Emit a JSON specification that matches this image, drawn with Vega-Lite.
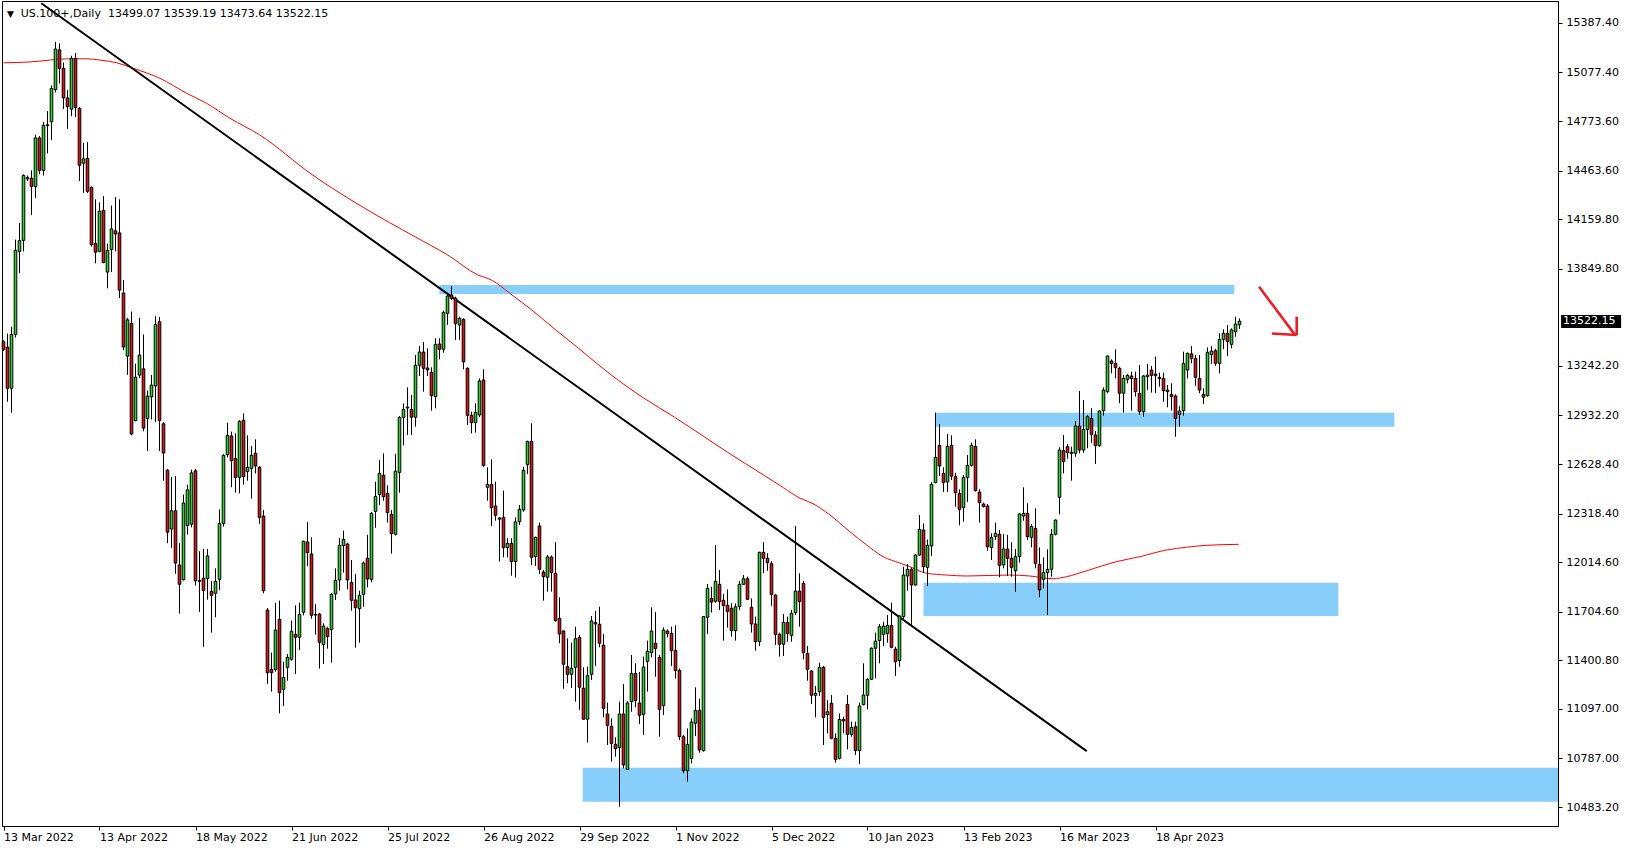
{
"$schema": "https://vega.github.io/schema/vega-lite/v6.json",
"width": 1556, "height": 825,
"autosize": {"type": "none"},
"padding": {"left": 2, "top": 1, "right": 71, "bottom": 24},
"background": "white",
"config": {
 "view": {"stroke": "black", "strokeWidth": 1},
 "axis": {"grid": false, "domainColor": "black", "tickColor": "black", "labelColor": "black", "labelFont": "DejaVu Sans", "labelFontSize": 11}
},
"datasets": {
 "candles": [
{"i":0,"o":13394,"h":13402,"l":13335,"c":13345},
{"i":1,"o":13360,"h":13444,"l":13018,"c":13102},
{"i":2,"o":13102,"h":13488,"l":12949,"c":13439},
{"i":3,"o":13439,"h":14032,"l":13419,"c":13965},
{"i":4,"o":13958,"h":14136,"l":13822,"c":14027},
{"i":5,"o":14027,"h":14440,"l":13958,"c":14433},
{"i":6,"o":14412,"h":14433,"l":14398,"c":14420},
{"i":7,"o":14416,"h":14465,"l":14186,"c":14364},
{"i":8,"o":14364,"h":14688,"l":14292,"c":14668},
{"i":9,"o":14668,"h":14680,"l":14440,"c":14465},
{"i":10,"o":14465,"h":14769,"l":14433,"c":14747},
{"i":11,"o":14745,"h":14836,"l":14571,"c":14750},
{"i":12,"o":14769,"h":14997,"l":14655,"c":14977},
{"i":13,"o":14970,"h":15269,"l":14952,"c":15224},
{"i":14,"o":15219,"h":15259,"l":15009,"c":15103},
{"i":15,"o":15103,"h":15140,"l":14848,"c":14918},
{"i":16,"o":14918,"h":14967,"l":14725,"c":14863},
{"i":17,"o":14848,"h":15182,"l":14804,"c":15165},
{"i":18,"o":15165,"h":15200,"l":14799,"c":14858},
{"i":19,"o":14853,"h":14861,"l":14398,"c":14497},
{"i":20,"o":14510,"h":14638,"l":14324,"c":14537},
{"i":21,"o":14539,"h":14643,"l":14324,"c":14334},
{"i":22,"o":14359,"h":14364,"l":13988,"c":14000},
{"i":23,"o":14007,"h":14284,"l":13884,"c":13953},
{"i":24,"o":13958,"h":14265,"l":13953,"c":14210},
{"i":25,"o":14215,"h":14304,"l":13884,"c":13889},
{"i":26,"o":13829,"h":14007,"l":13728,"c":13965},
{"i":27,"o":13970,"h":14245,"l":13829,"c":14099},
{"i":28,"o":14087,"h":14299,"l":13958,"c":14067},
{"i":29,"o":14074,"h":14284,"l":13666,"c":13716},
{"i":30,"o":13698,"h":13780,"l":13340,"c":13360},
{"i":31,"o":13303,"h":13543,"l":13186,"c":13530},
{"i":32,"o":13508,"h":13582,"l":12808,"c":12816},
{"i":33,"o":12900,"h":13256,"l":12895,"c":13172},
{"i":34,"o":13184,"h":13543,"l":13167,"c":13310},
{"i":35,"o":13224,"h":13439,"l":12833,"c":12853},
{"i":36,"o":12914,"h":13088,"l":12709,"c":13053},
{"i":37,"o":13048,"h":13186,"l":12907,"c":13122},
{"i":38,"o":13117,"h":13553,"l":12890,"c":13501},
{"i":39,"o":13518,"h":13548,"l":12709,"c":12900},
{"i":40,"o":12880,"h":12890,"l":12524,"c":12697},
{"i":41,"o":12590,"h":12598,"l":12133,"c":12202},
{"i":42,"o":12222,"h":12548,"l":12103,"c":12336},
{"i":43,"o":12336,"h":12553,"l":11942,"c":12009},
{"i":44,"o":11997,"h":12133,"l":11693,"c":11876},
{"i":45,"o":11905,"h":12437,"l":11900,"c":12385},
{"i":46,"o":12244,"h":12499,"l":12187,"c":12467},
{"i":47,"o":12252,"h":12593,"l":12232,"c":12573},
{"i":48,"o":12586,"h":12598,"l":11868,"c":11898},
{"i":49,"o":11900,"h":12083,"l":11703,"c":11895},
{"i":50,"o":11915,"h":12098,"l":11485,"c":11837},
{"i":51,"o":11912,"h":12097,"l":11780,"c":12054},
{"i":52,"o":11832,"h":11897,"l":11574,"c":11807},
{"i":53,"o":11820,"h":11976,"l":11670,"c":11895},
{"i":54,"o":11907,"h":12345,"l":11840,"c":12257},
{"i":55,"o":12257,"h":12691,"l":12237,"c":12683},
{"i":56,"o":12687,"h":12887,"l":12670,"c":12808},
{"i":57,"o":12804,"h":12831,"l":12483,"c":12649},
{"i":58,"o":12662,"h":12820,"l":12449,"c":12545},
{"i":59,"o":12545,"h":12904,"l":12445,"c":12895},
{"i":60,"o":12902,"h":12945,"l":12499,"c":12549},
{"i":61,"o":12581,"h":12808,"l":12524,"c":12608},
{"i":62,"o":12601,"h":12741,"l":12412,"c":12683},
{"i":63,"o":12695,"h":12783,"l":12570,"c":12616},
{"i":64,"o":12608,"h":12616,"l":12253,"c":12295},
{"i":65,"o":12303,"h":12341,"l":11820,"c":11836},
{"i":66,"o":11715,"h":11728,"l":11253,"c":11323},
{"i":67,"o":11344,"h":11449,"l":11205,"c":11323},
{"i":68,"o":11344,"h":11761,"l":11330,"c":11590},
{"i":69,"o":11657,"h":11774,"l":11069,"c":11198},
{"i":70,"o":11219,"h":11392,"l":11115,"c":11294},
{"i":71,"o":11357,"h":11440,"l":11273,"c":11419},
{"i":72,"o":11407,"h":11649,"l":11399,"c":11582},
{"i":73,"o":11563,"h":11745,"l":11315,"c":11545},
{"i":74,"o":11545,"h":11761,"l":11465,"c":11688},
{"i":75,"o":11701,"h":12149,"l":11682,"c":12145},
{"i":76,"o":12141,"h":12266,"l":11991,"c":12074},
{"i":77,"o":12066,"h":12170,"l":11661,"c":11682},
{"i":78,"o":11686,"h":11753,"l":11561,"c":11684},
{"i":79,"o":11690,"h":11695,"l":11349,"c":11513},
{"i":80,"o":11499,"h":11632,"l":11378,"c":11615},
{"i":81,"o":11599,"h":11611,"l":11474,"c":11549},
{"i":82,"o":11594,"h":11820,"l":11386,"c":11813},
{"i":83,"o":11816,"h":11976,"l":11778,"c":11901},
{"i":84,"o":11903,"h":12166,"l":11836,"c":12120},
{"i":85,"o":12118,"h":12212,"l":11949,"c":12157},
{"i":86,"o":12128,"h":12137,"l":11845,"c":11903},
{"i":87,"o":11888,"h":12028,"l":11711,"c":11776},
{"i":88,"o":11778,"h":11941,"l":11480,"c":11730},
{"i":89,"o":11724,"h":11836,"l":11511,"c":11807},
{"i":90,"o":11813,"h":12018,"l":11736,"c":12009},
{"i":91,"o":12039,"h":12186,"l":11857,"c":11909},
{"i":92,"o":11907,"h":12328,"l":11888,"c":12320},
{"i":93,"o":12332,"h":12518,"l":12230,"c":12426},
{"i":94,"o":12437,"h":12654,"l":12372,"c":12570},
{"i":95,"o":12558,"h":12695,"l":12399,"c":12424},
{"i":96,"o":12445,"h":12495,"l":12262,"c":12324},
{"i":97,"o":12314,"h":12341,"l":12068,"c":12193},
{"i":98,"o":12189,"h":12691,"l":12182,"c":12583},
{"i":99,"o":12576,"h":12929,"l":12449,"c":12920},
{"i":100,"o":12920,"h":13008,"l":12745,"c":12970},
{"i":101,"o":12979,"h":13108,"l":12810,"c":12985},
{"i":102,"o":12970,"h":13060,"l":12810,"c":12921},
{"i":103,"o":12921,"h":13310,"l":12862,"c":13246},
{"i":104,"o":13246,"h":13367,"l":13179,"c":13329},
{"i":105,"o":13329,"h":13392,"l":13081,"c":13227},
{"i":106,"o":13229,"h":13352,"l":13179,"c":13217},
{"i":107,"o":13202,"h":13233,"l":12962,"c":13056},
{"i":108,"o":13050,"h":13415,"l":12977,"c":13377},
{"i":109,"o":13379,"h":13415,"l":13283,"c":13346},
{"i":110,"o":13346,"h":13588,"l":13325,"c":13577},
{"i":111,"o":13571,"h":13696,"l":13498,"c":13679},
{"i":112,"o":13686,"h":13742,"l":13654,"c":13665},
{"i":113,"o":13665,"h":13675,"l":13404,"c":13508},
{"i":114,"o":13498,"h":13550,"l":13404,"c":13540},
{"i":115,"o":13533,"h":13540,"l":13221,"c":13267},
{"i":116,"o":13227,"h":13233,"l":12872,"c":12933},
{"i":117,"o":12933,"h":12956,"l":12820,"c":12887},
{"i":118,"o":12887,"h":13008,"l":12825,"c":12952},
{"i":119,"o":12935,"h":13164,"l":12921,"c":13148},
{"i":120,"o":13154,"h":13221,"l":12612,"c":12618},
{"i":121,"o":12483,"h":12608,"l":12399,"c":12501},
{"i":122,"o":12501,"h":12658,"l":12241,"c":12355},
{"i":123,"o":12366,"h":12518,"l":12274,"c":12308},
{"i":124,"o":12291,"h":12295,"l":12018,"c":12283},
{"i":125,"o":12295,"h":12462,"l":12045,"c":12105},
{"i":126,"o":12105,"h":12164,"l":12045,"c":12132},
{"i":127,"o":12132,"h":12164,"l":11930,"c":12018},
{"i":128,"o":12018,"h":12295,"l":11918,"c":12266},
{"i":129,"o":12268,"h":12372,"l":12247,"c":12345},
{"i":130,"o":12341,"h":12612,"l":12330,"c":12589},
{"i":131,"o":12626,"h":12774,"l":12566,"c":12770},
{"i":132,"o":12770,"h":12883,"l":11997,"c":12045},
{"i":133,"o":12049,"h":12174,"l":11991,"c":12170},
{"i":134,"o":12241,"h":12262,"l":11941,"c":11970},
{"i":135,"o":11953,"h":11966,"l":11774,"c":11924},
{"i":136,"o":11920,"h":12059,"l":11830,"c":12047},
{"i":137,"o":12047,"h":12057,"l":11830,"c":11949},
{"i":138,"o":11945,"h":12141,"l":11642,"c":11650},
{"i":139,"o":11663,"h":11795,"l":11507,"c":11565},
{"i":140,"o":11584,"h":11590,"l":11223,"c":11376},
{"i":141,"o":11361,"h":11538,"l":11257,"c":11313},
{"i":142,"o":11313,"h":11511,"l":11228,"c":11351},
{"i":143,"o":11357,"h":11611,"l":11142,"c":11536},
{"i":144,"o":11544,"h":11559,"l":11090,"c":11232},
{"i":145,"o":11226,"h":11357,"l":11028,"c":11032},
{"i":146,"o":11032,"h":11361,"l":10886,"c":11305},
{"i":147,"o":11313,"h":11678,"l":11278,"c":11647},
{"i":148,"o":11636,"h":11709,"l":11365,"c":11628},
{"i":149,"o":11626,"h":11736,"l":11482,"c":11507},
{"i":150,"o":11496,"h":11565,"l":11044,"c":11100},
{"i":151,"o":11065,"h":11136,"l":10871,"c":10994},
{"i":152,"o":10988,"h":11038,"l":10767,"c":10881},
{"i":153,"o":10875,"h":10919,"l":10798,"c":10848},
{"i":154,"o":10856,"h":11142,"l":10485,"c":11065},
{"i":155,"o":11065,"h":11253,"l":10725,"c":10746},
{"i":156,"o":10719,"h":11146,"l":10715,"c":11134},
{"i":157,"o":11142,"h":11434,"l":11079,"c":11319},
{"i":158,"o":11319,"h":11382,"l":11107,"c":11148},
{"i":159,"o":11134,"h":11328,"l":11002,"c":11057},
{"i":160,"o":11063,"h":11424,"l":10934,"c":11359},
{"i":161,"o":11394,"h":11524,"l":11205,"c":11457},
{"i":162,"o":11449,"h":11732,"l":11419,"c":11584},
{"i":163,"o":11507,"h":11703,"l":11298,"c":11474},
{"i":164,"o":11419,"h":11434,"l":10923,"c":11094},
{"i":165,"o":11117,"h":11607,"l":11059,"c":11590},
{"i":166,"o":11584,"h":11594,"l":11545,"c":11567},
{"i":167,"o":11569,"h":11611,"l":11365,"c":11461},
{"i":168,"o":11463,"h":11620,"l":11286,"c":11336},
{"i":169,"o":11338,"h":11349,"l":10902,"c":10923},
{"i":170,"o":10923,"h":10934,"l":10694,"c":10710},
{"i":171,"o":10710,"h":10975,"l":10642,"c":10875},
{"i":172,"o":10786,"h":11038,"l":10756,"c":11015},
{"i":173,"o":11007,"h":11232,"l":10927,"c":11088},
{"i":174,"o":11088,"h":11161,"l":10823,"c":10840},
{"i":175,"o":10836,"h":11678,"l":10829,"c":11674},
{"i":176,"o":11670,"h":11878,"l":11565,"c":11851},
{"i":177,"o":11788,"h":11861,"l":11699,"c":11765},
{"i":178,"o":11770,"h":12122,"l":11761,"c":11895},
{"i":179,"o":11876,"h":11966,"l":11715,"c":11768},
{"i":180,"o":11776,"h":11815,"l":11524,"c":11742},
{"i":181,"o":11745,"h":11845,"l":11605,"c":11705},
{"i":182,"o":11726,"h":11757,"l":11549,"c":11586},
{"i":183,"o":11586,"h":11757,"l":11524,"c":11736},
{"i":184,"o":11736,"h":11897,"l":11715,"c":11876},
{"i":185,"o":11876,"h":11934,"l":11872,"c":11911},
{"i":186,"o":11911,"h":11924,"l":11778,"c":11782},
{"i":187,"o":11732,"h":11788,"l":11574,"c":11628},
{"i":188,"o":11628,"h":11674,"l":11461,"c":11517},
{"i":189,"o":11517,"h":12080,"l":11490,"c":12076},
{"i":190,"o":12076,"h":12141,"l":11945,"c":12039},
{"i":191,"o":12039,"h":12070,"l":11961,"c":12011},
{"i":192,"o":12005,"h":12020,"l":11740,"c":11811},
{"i":193,"o":11809,"h":11815,"l":11497,"c":11563},
{"i":194,"o":11563,"h":11574,"l":11424,"c":11501},
{"i":195,"o":11501,"h":11690,"l":11428,"c":11638},
{"i":196,"o":11638,"h":11674,"l":11517,"c":11567},
{"i":197,"o":11557,"h":11715,"l":11517,"c":11695},
{"i":198,"o":11699,"h":12241,"l":11684,"c":11834},
{"i":199,"o":11834,"h":11945,"l":11611,"c":11768},
{"i":200,"o":11882,"h":11897,"l":11407,"c":11449},
{"i":201,"o":11444,"h":11490,"l":11273,"c":11344},
{"i":202,"o":11334,"h":11340,"l":11127,"c":11182},
{"i":203,"o":11182,"h":11240,"l":11044,"c":11194},
{"i":204,"o":11205,"h":11386,"l":11177,"c":11357},
{"i":205,"o":11357,"h":11365,"l":10871,"c":11044},
{"i":206,"o":11061,"h":11152,"l":10944,"c":11079},
{"i":207,"o":11132,"h":11184,"l":10906,"c":10913},
{"i":208,"o":10913,"h":10944,"l":10760,"c":10781},
{"i":209,"o":10788,"h":11069,"l":10781,"c":11031},
{"i":210,"o":11031,"h":11048,"l":10944,"c":11021},
{"i":211,"o":11125,"h":11184,"l":10844,"c":10938},
{"i":212,"o":10938,"h":11017,"l":10923,"c":10981},
{"i":213,"o":10986,"h":11017,"l":10808,"c":10836},
{"i":214,"o":10836,"h":11136,"l":10752,"c":11115},
{"i":215,"o":11123,"h":11382,"l":11119,"c":11184},
{"i":216,"o":11182,"h":11288,"l":11094,"c":11282},
{"i":217,"o":11282,"h":11482,"l":11278,"c":11476},
{"i":218,"o":11476,"h":11574,"l":11288,"c":11521},
{"i":219,"o":11524,"h":11628,"l":11382,"c":11611},
{"i":220,"o":11563,"h":11642,"l":11490,"c":11615},
{"i":221,"o":11569,"h":11684,"l":11511,"c":11619},
{"i":222,"o":11619,"h":11761,"l":11476,"c":11482},
{"i":223,"o":11471,"h":11486,"l":11303,"c":11392},
{"i":224,"o":11399,"h":11684,"l":11361,"c":11678},
{"i":225,"o":11674,"h":11986,"l":11653,"c":11934},
{"i":226,"o":11928,"h":12003,"l":11836,"c":11970},
{"i":227,"o":11970,"h":11982,"l":11611,"c":11872},
{"i":228,"o":11872,"h":12066,"l":11865,"c":12059},
{"i":229,"o":12059,"h":12310,"l":12053,"c":12220},
{"i":230,"o":12216,"h":12257,"l":11949,"c":11986},
{"i":231,"o":11982,"h":12157,"l":11865,"c":12120},
{"i":232,"o":12116,"h":12516,"l":12053,"c":12501},
{"i":233,"o":12512,"h":12950,"l":12508,"c":12670},
{"i":234,"o":12745,"h":12879,"l":12553,"c":12616},
{"i":235,"o":12570,"h":12608,"l":12453,"c":12512},
{"i":236,"o":12516,"h":12816,"l":12453,"c":12739},
{"i":237,"o":12745,"h":12808,"l":12528,"c":12553},
{"i":238,"o":12549,"h":12574,"l":12362,"c":12449},
{"i":239,"o":12445,"h":12470,"l":12245,"c":12345},
{"i":240,"o":12357,"h":12560,"l":12268,"c":12545},
{"i":241,"o":12545,"h":12685,"l":12391,"c":12620},
{"i":242,"o":12620,"h":12762,"l":12612,"c":12745},
{"i":243,"o":12739,"h":12783,"l":12456,"c":12462},
{"i":244,"o":12453,"h":12470,"l":12262,"c":12387},
{"i":245,"o":12378,"h":12387,"l":12357,"c":12362},
{"i":246,"o":12366,"h":12378,"l":12086,"c":12111},
{"i":247,"o":12107,"h":12195,"l":12028,"c":12168},
{"i":248,"o":12174,"h":12262,"l":12153,"c":12195},
{"i":249,"o":12189,"h":12216,"l":11920,"c":11995},
{"i":250,"o":11997,"h":12191,"l":11976,"c":12097},
{"i":251,"o":12097,"h":12185,"l":11928,"c":12039},
{"i":252,"o":12039,"h":12139,"l":11924,"c":11982},
{"i":253,"o":11961,"h":12097,"l":11830,"c":12049},
{"i":254,"o":12049,"h":12320,"l":12011,"c":12316},
{"i":255,"o":12303,"h":12483,"l":12274,"c":12320},
{"i":256,"o":12320,"h":12383,"l":12153,"c":12174},
{"i":257,"o":12170,"h":12253,"l":12107,"c":12237},
{"i":258,"o":12226,"h":12351,"l":11976,"c":12007},
{"i":259,"o":12001,"h":12107,"l":11795,"c":11841},
{"i":260,"o":11907,"h":12045,"l":11851,"c":11949},
{"i":261,"o":11949,"h":12095,"l":11684,"c":11970},
{"i":262,"o":11970,"h":12222,"l":11924,"c":12189},
{"i":263,"o":12189,"h":12282,"l":12182,"c":12278},
{"i":264,"o":12420,"h":12733,"l":12314,"c":12716},
{"i":265,"o":12712,"h":12810,"l":12570,"c":12645},
{"i":266,"o":12737,"h":12754,"l":12662,"c":12699},
{"i":267,"o":12702,"h":12737,"l":12524,"c":12695},
{"i":268,"o":12695,"h":12897,"l":12674,"c":12866},
{"i":269,"o":12866,"h":13085,"l":12695,"c":12716},
{"i":270,"o":12716,"h":13029,"l":12699,"c":12845},
{"i":271,"o":12845,"h":12935,"l":12727,"c":12925},
{"i":272,"o":12914,"h":12977,"l":12762,"c":12814},
{"i":273,"o":12810,"h":12835,"l":12629,"c":12743},
{"i":274,"o":12743,"h":12964,"l":12737,"c":12960},
{"i":275,"o":12962,"h":13108,"l":12931,"c":13091},
{"i":276,"o":13081,"h":13310,"l":13071,"c":13304},
{"i":277,"o":13273,"h":13283,"l":13196,"c":13258},
{"i":278,"o":13258,"h":13346,"l":13164,"c":13231},
{"i":279,"o":13227,"h":13237,"l":13008,"c":13071},
{"i":280,"o":13071,"h":13185,"l":12950,"c":13164},
{"i":281,"o":13158,"h":13191,"l":13133,"c":13183},
{"i":282,"o":13179,"h":13206,"l":12962,"c":13162},
{"i":283,"o":13164,"h":13206,"l":13050,"c":13081},
{"i":284,"o":13071,"h":13248,"l":12935,"c":12956},
{"i":285,"o":12956,"h":13185,"l":12925,"c":13179},
{"i":286,"o":13175,"h":13254,"l":13091,"c":13185},
{"i":287,"o":13216,"h":13242,"l":13075,"c":13183},
{"i":288,"o":13191,"h":13300,"l":13071,"c":13181},
{"i":289,"o":13171,"h":13200,"l":13112,"c":13162},
{"i":290,"o":13164,"h":13200,"l":13018,"c":13087},
{"i":291,"o":13091,"h":13123,"l":12983,"c":13081},
{"i":292,"o":13064,"h":13133,"l":12962,"c":13050},
{"i":293,"o":13054,"h":13064,"l":12799,"c":12914},
{"i":294,"o":12939,"h":12991,"l":12862,"c":12960},
{"i":295,"o":12962,"h":13331,"l":12931,"c":13258},
{"i":296,"o":13216,"h":13325,"l":13164,"c":13321},
{"i":297,"o":13317,"h":13367,"l":13258,"c":13289},
{"i":298,"o":13289,"h":13310,"l":13116,"c":13171},
{"i":299,"o":13164,"h":13310,"l":13071,"c":13091},
{"i":300,"o":13064,"h":13102,"l":13004,"c":13046},
{"i":301,"o":13056,"h":13358,"l":13050,"c":13327},
{"i":302,"o":13314,"h":13367,"l":13254,"c":13335},
{"i":303,"o":13337,"h":13350,"l":13242,"c":13258},
{"i":304,"o":13258,"h":13446,"l":13196,"c":13408},
{"i":305,"o":13408,"h":13471,"l":13346,"c":13446},
{"i":306,"o":13446,"h":13498,"l":13304,"c":13394},
{"i":307,"o":13377,"h":13477,"l":13352,"c":13467},
{"i":308,"o":13456,"h":13550,"l":13425,"c":13504},
{"i":309,"o":13499.07,"h":13539.19,"l":13473.64,"c":13522.15}
 ],
 "ma": [
{"i":0,"p":15138},{"i":6.6,"p":15143},{"i":11.6,"p":15155},{"i":15.8,"p":15163},{"i":20.8,"p":15163},{"i":24.1,"p":15155},{"i":28.3,"p":15138},{"i":32.5,"p":15103},{"i":39.1,"p":15041},{"i":45.8,"p":14947},{"i":50.8,"p":14884},{"i":56.6,"p":14791},{"i":64.1,"p":14686},{"i":77.1,"p":14439},{"i":90.1,"p":14231},{"i":103,"p":14048},{"i":110.9,"p":13938},{"i":118.6,"p":13811},{"i":122,"p":13779},{"i":126.6,"p":13696},{"i":132.4,"p":13585},{"i":138.3,"p":13462},{"i":143.3,"p":13362},{"i":148.3,"p":13258},{"i":151.6,"p":13192},{"i":160,"p":13042},{"i":167.7,"p":12922},{"i":175,"p":12802},{"i":181,"p":12702},{"i":190,"p":12560},{"i":195,"p":12480},{"i":199.1,"p":12415},{"i":202.4,"p":12380},{"i":206.6,"p":12310},{"i":211.6,"p":12205},{"i":215.8,"p":12122},{"i":219.9,"p":12049},{"i":224.1,"p":12009},{"i":226.6,"p":11986},{"i":230.8,"p":11945},{"i":235.8,"p":11934},{"i":240.8,"p":11928},{"i":251.6,"p":11934},{"i":256.6,"p":11928},{"i":262.4,"p":11911},{"i":265.8,"p":11924},{"i":270.8,"p":11961},{"i":278.3,"p":12018},{"i":284.1,"p":12049},{"i":290.8,"p":12091},{"i":295.8,"p":12108},{"i":300.8,"p":12120},{"i":308.8,"p":12126}
 ],
 "zones": [
{"i":109,"i2":307.7,"p":13748,"p2":13692},
{"i":233.1,"i2":347.7,"p":12949,"p2":12862},
{"i":230,"i2":333.7,"p":11886,"p2":11678},
{"i":144.8,"i2":388.625,"p":10729,"p2":10516}
 ],
 "trend": [{"i":9.45,"i2":270.8,"p":15510,"p2":10833}],
 "arrow": [
{"i":313.9,"i2":322.9,"p":13737,"p2":13435},
{"i":317.1,"i2":323.3,"p":13445,"p2":13435},
{"i":323.3,"i2":323.3,"p":13550,"p2":13435}
 ],
 "header": [{"i":4.33,"p":15446,"label":"US.100+,Daily\u00a0\u00a013499.07 13539.19 13473.64 13522.15"}],
 "tri": [{"i":1.75,"p":15446,"label":"\u25BC"}],
 "tag": [{"i":389.4,"i2":404.4,"p":13560,"p2":13479,"c":13520,"label":"13522.15"}]
},
"layer": [
 {
  "data": {"name": "zones"},
  "mark": {"type": "rect", "color": "#87CEFA"},
  "encoding": {
   "x": {"field": "i", "type": "quantitative", "title": null, "scale": {"domain": [-0.375, 388.625], "nice": false, "zero": false, "padding": 0},
    "axis": {"values": [0,24,48,72,96,120,144,168,192,216,240,264,288], "tickSize": 4, "labelPadding": 1, "labelAlign": "left", "labelBaseline": "top", "labelFlush": false, "labelOverlap": false,
     "labelExpr": "['13 Mar 2022','13 Apr 2022','18 May 2022','21 Jun 2022','25 Jul 2022','26 Aug 2022','29 Sep 2022','1 Nov 2022','5 Dec 2022','10 Jan 2023','13 Feb 2023','16 Mar 2023','18 Apr 2023'][round(datum.value/24)]"}},
   "x2": {"field": "i2"},
   "y": {"field": "p", "type": "quantitative", "title": null, "scale": {"domain": [10364.4, 15524.4], "nice": false, "zero": false, "padding": 0},
    "axis": {"orient": "right", "values": [15387.4,15077.4,14773.6,14463.6,14159.8,13849.8,13242.2,12932.2,12628.4,12318.4,12014.6,11704.6,11400.8,11097,10787,10483.2], "format": ".2f", "tickSize": 4, "labelPadding": 4, "labelFlush": false, "labelOverlap": false}},
   "y2": {"field": "p2"}
  }
 },
 {
  "data": {"name": "ma"},
  "mark": {"type": "line", "color": "#ff0000", "strokeWidth": 1, "interpolate": "monotone"},
  "encoding": {
   "x": {"field": "i", "type": "quantitative", "title": null},
   "y": {"field": "p", "type": "quantitative", "title": null}
  }
 },
 {
  "data": {"name": "trend"},
  "mark": {"type": "rule", "color": "black", "strokeWidth": 2},
  "encoding": {
   "x": {"field": "i", "type": "quantitative", "title": null},
   "x2": {"field": "i2"},
   "y": {"field": "p", "type": "quantitative", "title": null},
   "y2": {"field": "p2"}
  }
 },
 {
  "data": {"name": "candles"},
  "mark": {"type": "rule", "color": "black", "strokeWidth": 1},
  "encoding": {
   "x": {"field": "i", "type": "quantitative", "title": null},
   "y": {"field": "l", "type": "quantitative", "title": null},
   "y2": {"field": "h"}
  }
 },
 {
  "data": {"name": "candles"},
  "mark": {"type": "bar", "size": 2.6, "stroke": "black", "strokeWidth": 1},
  "encoding": {
   "x": {"field": "i", "type": "quantitative", "title": null},
   "y": {"field": "o", "type": "quantitative", "title": null},
   "y2": {"field": "c"},
   "fill": {"condition": {"test": "datum.c >= datum.o", "value": "#2ad42a"}, "value": "#dd1111"}
  }
 },
 {
  "data": {"name": "arrow"},
  "mark": {"type": "rule", "color": "#ed1c24", "strokeWidth": 2.6},
  "encoding": {
   "x": {"field": "i", "type": "quantitative", "title": null},
   "x2": {"field": "i2"},
   "y": {"field": "p", "type": "quantitative", "title": null},
   "y2": {"field": "p2"}
  }
 },
 {
  "data": {"name": "header"},
  "mark": {"type": "text", "align": "left", "baseline": "middle", "font": "DejaVu Sans", "fontSize": 11, "color": "black"},
  "encoding": {
   "x": {"field": "i", "type": "quantitative", "title": null},
   "y": {"field": "p", "type": "quantitative", "title": null},
   "text": {"field": "label"}
  }
 },
 {
  "data": {"name": "tri"},
  "mark": {"type": "text", "align": "center", "baseline": "middle", "font": "DejaVu Sans", "fontSize": 9, "color": "black"},
  "encoding": {
   "x": {"field": "i", "type": "quantitative", "title": null},
   "y": {"field": "p", "type": "quantitative", "title": null},
   "text": {"field": "label"}
  }
 },
 {
  "data": {"name": "tag"},
  "mark": {"type": "rect", "color": "black"},
  "encoding": {
   "x": {"field": "i", "type": "quantitative", "title": null},
   "x2": {"field": "i2"},
   "y": {"field": "p", "type": "quantitative", "title": null},
   "y2": {"field": "p2"}
  }
 },
 {
  "data": {"name": "tag"},
  "mark": {"type": "text", "align": "left", "baseline": "middle", "dx": 2, "font": "DejaVu Sans", "fontSize": 11, "color": "white"},
  "encoding": {
   "x": {"field": "i", "type": "quantitative", "title": null},
   "y": {"field": "c", "type": "quantitative", "title": null},
   "text": {"field": "label"}
  }
 }
]
}
